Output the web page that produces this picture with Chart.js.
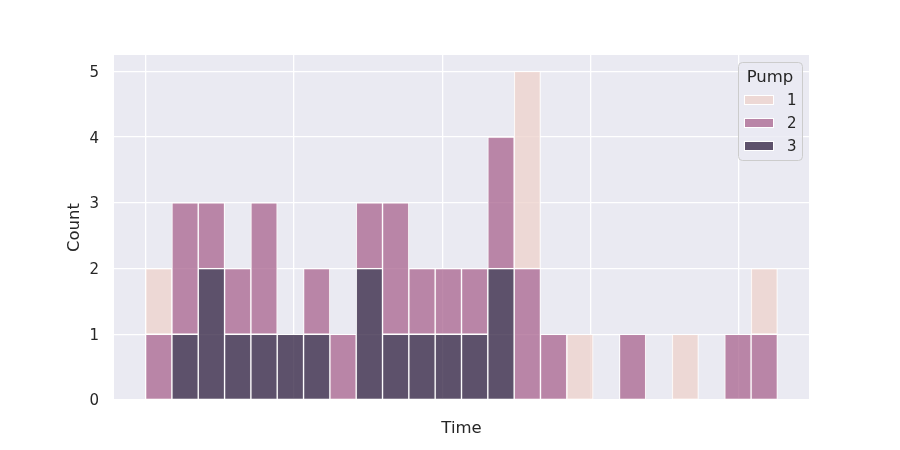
<!DOCTYPE html>
<html>
<head>
<meta charset="utf-8">
<script src="https://cdn.jsdelivr.net/npm/chart.js@4.4.0/dist/chart.umd.min.js"></script>
<style>
  body { margin: 0; background: #ffffff; }
  #wrap { width: 900px; height: 450px; }
</style>
</head>
<body>
<div id="wrap"><canvas id="hist" width="900" height="450"></canvas></div>
<script>
// histogram counts per time bin (24 bins), stacked 3 -> 2 -> 1 from the bottom
const binCount = 24;
const pump1 = [1,0,0,0,0,0,0,0,0,0,0,0,0,0,3,0,1,0,0,0,1,0,0,1];
const pump2 = [1,2,1,1,2,0,1,1,1,2,1,1,1,2,2,1,0,0,1,0,0,0,1,1];
const pump3 = [0,1,2,1,1,1,1,0,2,1,1,1,1,2,0,0,0,0,0,0,0,0,0,0];
const pumpLabels = ["1", "2", "3"];
const yTicks = [0, 1, 2, 3, 4, 5];
// time axis grid positions (in bin units), labels are not shown
const timeGrid = [0, 5.62, 11.27, 16.9, 22.52];

const pumpColors = {
    "1": "rgba(237,209,203,0.75)",
    "2": "rgba(168,99,141,0.75)",
    "3": "rgba(45,30,62,0.75)"
};
const textColor = "#262626";
const font = "DejaVu Sans";

function toPoints(counts) {
    return counts.map((c, i) => ({ x: i + 0.5, y: c === 0 ? null : c }));
}

function makeSet(label, counts) {
    return {
        label: label,
        data: toPoints(counts),
        backgroundColor: pumpColors[label],
        borderColor: "#ffffff",
        borderWidth: 1,
        borderSkipped: false,
        grouped: false,
        barPercentage: 1,
        categoryPercentage: 1
    };
}

const plotBackground = {
    id: "plotBackground",
    beforeDraw(chart) {
        const { ctx, chartArea } = chart;
        ctx.save();
        ctx.fillStyle = "#eaeaf2";
        ctx.fillRect(chartArea.left, chartArea.top, chartArea.width, chartArea.height);
        ctx.restore();
    }
};

// seaborn style legend box in the top right corner of the axes
const pumpLegend = {
    id: "pumpLegend",
    afterDraw(chart) {
        const ctx = chart.ctx;
        const area = chart.chartArea;
        const boxW = 64, boxH = 98;
        const bx = area.right - 7 - boxW;
        const by = area.top + 7;
        ctx.save();
        ctx.beginPath();
        ctx.roundRect(bx + 0.5, by + 0.5, boxW, boxH, 4);
        ctx.fillStyle = "rgba(234,234,242,0.8)";
        ctx.fill();
        ctx.strokeStyle = "#cccccc";
        ctx.lineWidth = 1;
        ctx.stroke();

        ctx.fillStyle = textColor;
        ctx.textAlign = "center";
        ctx.textBaseline = "middle";
        ctx.font = "16.5px '" + font + "'";
        ctx.fillText("Pump", bx + boxW / 2, by + 15.5);

        ctx.font = "15px '" + font + "'";
        pumpLabels.forEach((lab, i) => {
            const cy = by + 38 + i * 23;
            ctx.fillStyle = "#eaeaf2";
            ctx.fillRect(bx + 6, cy - 5, 30, 10);
            ctx.fillStyle = pumpColors[lab];
            ctx.fillRect(bx + 6, cy - 5, 30, 10);
            ctx.strokeStyle = "#ffffff";
            ctx.strokeRect(bx + 6.5, cy - 4.5, 29, 9);
            ctx.fillStyle = textColor;
            ctx.textAlign = "left";
            ctx.fillText(lab, bx + 49, cy + 1.5);
        });
        ctx.restore();
    }
};

function start() {
    const ctx = document.getElementById("hist").getContext("2d");
    new Chart(ctx, {
        type: "bar",
        data: {
            datasets: [
                makeSet("3", pump3),
                makeSet("2", pump2),
                makeSet("1", pump1)
            ]
        },
        options: {
            responsive: false,
            animation: false,
            devicePixelRatio: 1,
            layout: { padding: { left: 0, top: 55, right: 91, bottom: 0 } },
            plugins: {
                legend: { display: false },
                tooltip: { enabled: false }
            },
            scales: {
                x: {
                    type: "linear",
                    min: -1.2,
                    max: binCount + 1.2,
                    offset: false,
                    grid: { color: "#ffffff", lineWidth: 1.3, drawTicks: false, offset: false },
                    border: { display: false },
                    ticks: { display: false },
                    afterBuildTicks(scale) {
                        scale.ticks = timeGrid.map(v => ({ value: v }));
                    },
                    afterFit(scale) { scale.height = 50; },
                    title: {
                        display: true,
                        text: "Time",
                        color: textColor,
                        font: { family: font, size: 16.5 },
                        padding: { top: 0, bottom: 11 }
                    }
                },
                y: {
                    stacked: true,
                    min: 0,
                    max: 5.25,
                    grid: { color: "#ffffff", lineWidth: 1.3, drawTicks: false },
                    border: { display: false },
                    afterBuildTicks(scale) {
                        scale.ticks = yTicks.map(v => ({ value: v }));
                    },
                    ticks: {
                        padding: 15,
                        labelOffset: 1.5,
                        color: textColor,
                        font: { family: font, size: 15 }
                    },
                    afterFit(scale) { scale.width = 114; },
                    title: {
                        display: true,
                        text: "Count",
                        color: textColor,
                        font: { family: font, size: 16.5 },
                        padding: { top: 65, bottom: 0 }
                    }
                }
            }
        },
        plugins: [plotBackground, pumpLegend]
    });
}

window.addEventListener("load", start, false);
</script>
</body>
</html>
